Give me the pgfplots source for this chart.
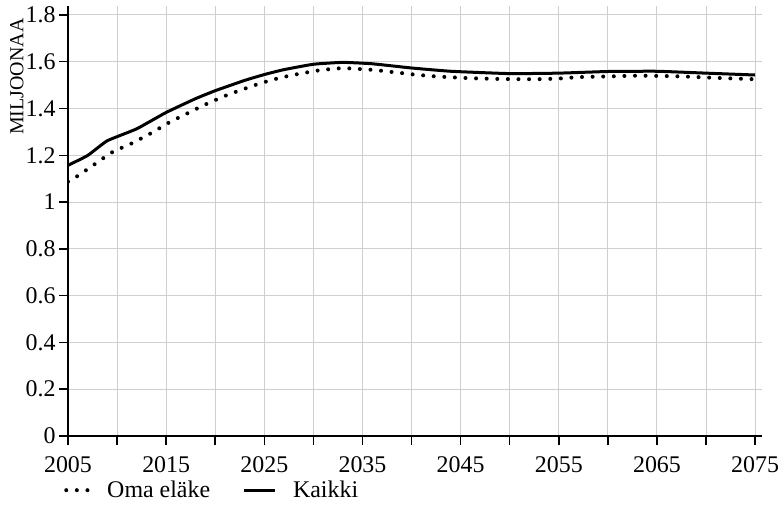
\documentclass[border=0pt]{standalone}
\usepackage{fontspec}
\setmainfont{Liberation Serif}
\usepackage{pgfplots}
\pgfplotsset{compat=1.18}
\pgfplotsset{
  dotleg/.style={legend image code/.code={\draw[##1] (0bp,0) -- (22bp,0);}},
  solleg/.style={legend image code/.code={\draw[##1] (0bp,0) -- (31bp,0);}},
}
\begin{document}
\begin{tikzpicture}
\path[use as bounding box] (-68bp,-78bp) rectangle (713bp,436bp);
\begin{axis}[
  at={(0,0)}, anchor=origin,
  width=694bp, height=430bp, scale only axis,
  xmin=2005, xmax=2075.7, ymin=0, ymax=1.838,
  axis x line=bottom, axis y line=left,
  axis line style={-, line width=2bp, black},
  xtick={2005,2015,...,2075},
  minor xtick={2010,2020,...,2070},
  ytick={0,0.2,...,1.8},
  grid=both,
  major grid style={line width=1bp, color=black!19},
  minor grid style={line width=1bp, color=black!19},
  tick align=outside,
  major tick length=9bp, minor tick length=9bp,
  tick style={line width=1.5bp, black},
  /pgf/number format/assume math mode=true,
  /pgf/number format/1000 sep={},
  ticklabel style={font=\fontsize{24}{28}\selectfont},
  xticklabel style={yshift=-8bp},
  yticklabel style={xshift=0bp},
  ylabel={MILJOONAA},
  ylabel style={font=\fontsize{20}{24}\selectfont, at={(axis description cs:-0.0735,0.979)}, anchor=east},
  legend style={draw=none, fill=none, at={(axis description cs:-0.01,-0.126)}, anchor=west,
    font=\fontsize{24}{28}\selectfont,
    /tikz/every odd column/.append style={column sep=15bp},
    /tikz/every even column/.append style={column sep=30bp}},
  legend columns=2,
]
\addplot[black, line width=4bp, line cap=round, dash pattern=on 0pt off 10.6bp, smooth, tension=0.4, dotleg]
coordinates {(2005,1.087)(2006,1.112)(2008,1.17)(2009.5,1.213)(2011.5,1.251)(2013.4,1.293)(2015.3,1.34)(2017.3,1.382)(2019.1,1.419)(2021.2,1.457)(2024.2,1.502)(2026.4,1.529)(2028.4,1.547)(2030.6,1.563)(2033,1.572)(2036,1.565)(2038.2,1.555)(2040.3,1.545)(2042.5,1.537)(2045.7,1.530)(2049,1.526)(2052.6,1.525)(2055,1.528)(2057.1,1.534)(2060,1.537)(2063,1.540)(2066.5,1.538)(2068.7,1.535)(2070.8,1.531)(2075,1.525)};
\addlegendentry{Oma eläke}
\addplot[black, line width=3bp, smooth, tension=0.25, solleg]
coordinates {(2005,1.157)(2007,1.199)(2009,1.262)(2012,1.313)(2015,1.383)(2018,1.442)(2020,1.476)(2023,1.52)(2025,1.545)(2027,1.566)(2030,1.589)(2033,1.597)(2036,1.591)(2040,1.573)(2044,1.559)(2050,1.549)(2055,1.551)(2060,1.558)(2065,1.559)(2070,1.551)(2075,1.543)};
\addlegendentry{Kaikki}
\end{axis}
\end{tikzpicture}
\end{document}
